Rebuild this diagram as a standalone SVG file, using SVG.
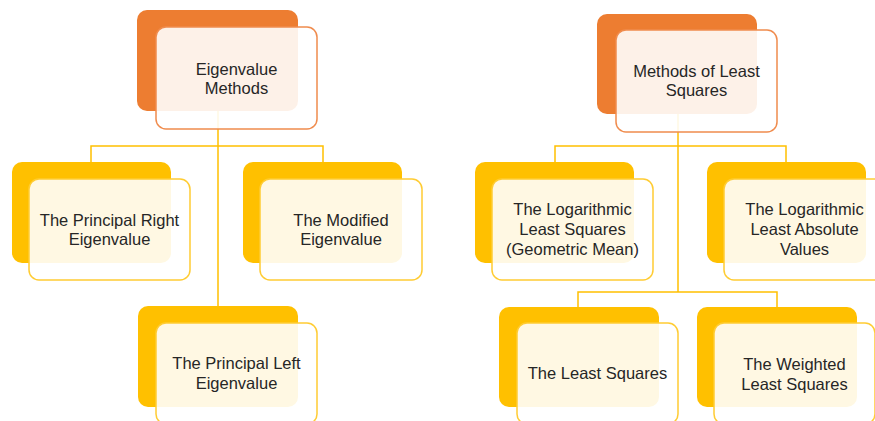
<svg xmlns="http://www.w3.org/2000/svg" width="875" height="421" viewBox="0 0 875 421">
<style>
.bo{fill:#ED7D31}
.by{fill:#FFC000}
.fo{fill:#FFFFFF;fill-opacity:0.89;stroke:#F08C4E;stroke-width:1.5}
.fy{fill:#FFFFFF;fill-opacity:0.89;stroke:#FFCC33;stroke-width:1.5}
.t{font-family:"Liberation Sans",Arial,sans-serif;font-size:16.5px;fill:#262626;text-anchor:middle}
.c{fill:none;stroke:#FFC000;stroke-width:1.5}
</style>
<rect width="875" height="421" fill="#FFFFFF"/>
<g id="connectors">
<path class="c" d="M218 111V306M91 162V146H323V162"/>
<path class="c" d="M678 114V292M555 162V146H786V162M578 307V292H777V307"/>
</g>
<g id="eigen">
<rect class="bo" x="137" y="10" width="161" height="101" rx="10"/>
<rect class="fo" x="156" y="27" width="161" height="102" rx="10"/>
<text class="t" x="236.5" y="75">Eigenvalue</text>
<text class="t" x="236.5" y="94">Methods</text>
</g>
<g id="right">
<rect class="by" x="12" y="162" width="159" height="101" rx="10"/>
<rect class="fy" x="29" y="179" width="161" height="101" rx="10"/>
<text class="t" x="109.5" y="226">The Principal Right</text>
<text class="t" x="109.5" y="245">Eigenvalue</text>
</g>
<g id="modified">
<rect class="by" x="243" y="162" width="159" height="101" rx="10"/>
<rect class="fy" x="260" y="179" width="162" height="101" rx="10"/>
<text class="t" x="341" y="226">The Modified</text>
<text class="t" x="341" y="245">Eigenvalue</text>
</g>
<g id="left">
<rect class="by" x="138" y="306" width="160" height="101" rx="10"/>
<rect class="fy" x="156" y="323" width="161" height="101" rx="10"/>
<text class="t" x="236.5" y="369">The Principal Left</text>
<text class="t" x="236.5" y="389">Eigenvalue</text>
</g>
<g id="lsq">
<rect class="bo" x="597" y="14" width="160" height="100" rx="10"/>
<rect class="fo" x="616" y="30" width="161" height="102" rx="10"/>
<text class="t" x="696.5" y="77">Methods of Least</text>
<text class="t" x="696.5" y="96">Squares</text>
</g>
<g id="llsgm">
<rect class="by" x="475" y="162" width="159" height="101" rx="10"/>
<rect class="fy" x="492" y="179" width="161" height="101" rx="10"/>
<text class="t" x="572.5" y="215">The Logarithmic</text>
<text class="t" x="572.5" y="235">Least Squares</text>
<text class="t" x="572.5" y="255">(Geometric Mean)</text>
</g>
<g id="llav">
<rect class="by" x="707" y="162" width="159" height="101" rx="10"/>
<rect class="fy" x="724" y="179" width="161" height="101" rx="10"/>
<text class="t" x="804.5" y="215">The Logarithmic</text>
<text class="t" x="804.5" y="235">Least Absolute</text>
<text class="t" x="804.5" y="255">Values</text>
</g>
<g id="ls">
<rect class="by" x="499" y="307" width="160" height="100" rx="10"/>
<rect class="fy" x="517" y="323" width="161" height="101" rx="10"/>
<text class="t" x="597.5" y="379">The Least Squares</text>
</g>
<g id="wls">
<rect class="by" x="697" y="307" width="160" height="100" rx="10"/>
<rect class="fy" x="714" y="323" width="161" height="101" rx="10"/>
<text class="t" x="794.5" y="370">The Weighted</text>
<text class="t" x="794.5" y="390">Least Squares</text>
</g>
</svg>
